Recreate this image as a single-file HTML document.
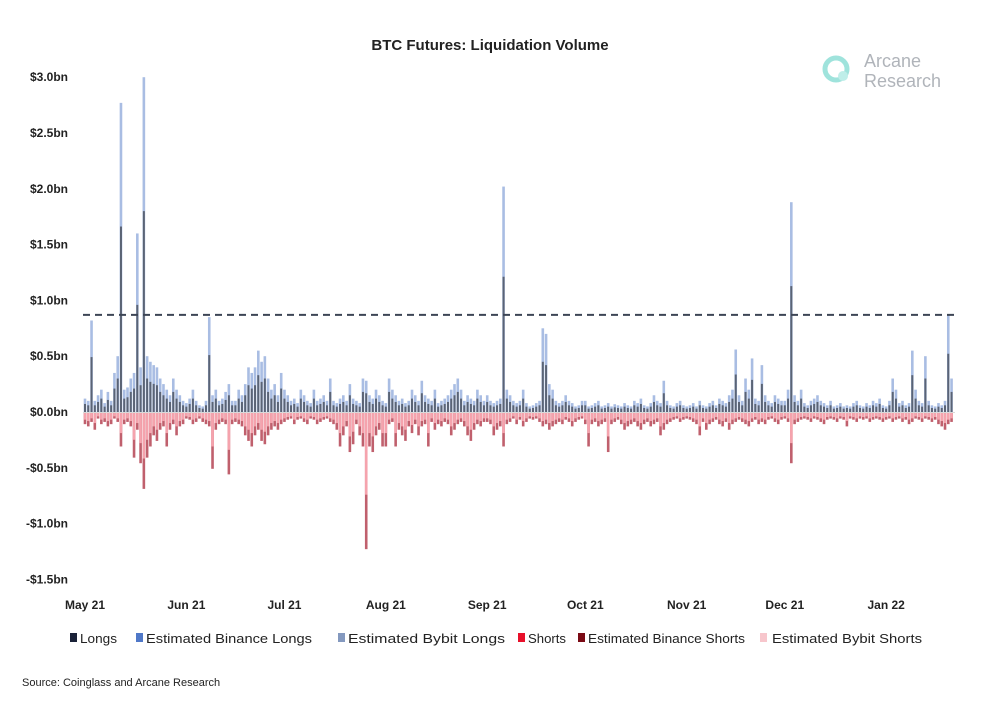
<!DOCTYPE html>
<html><head><meta charset="utf-8"><style>
body{margin:0;background:#fff;font-family:"Liberation Sans",sans-serif;}
svg text{font-family:"Liberation Sans",sans-serif;}
</style></head><body>
<svg id="chart" width="1000" height="704" xmlns="http://www.w3.org/2000/svg">
<rect width="1000" height="704" fill="#fff"/>
<text x="490" y="50" text-anchor="middle" font-size="15" font-weight="bold" fill="#222">BTC Futures: Liquidation Volume</text>
<g>
<circle cx="836" cy="69" r="11" fill="none" stroke="#9fe3dc" stroke-width="5"/>
<circle cx="843" cy="76" r="5" fill="#bfeee9"/>
<text x="864" y="67" font-size="18" fill="#b0b4ba">Arcane</text>
<text x="864" y="87" font-size="18" fill="#b0b4ba">Research</text>
</g>
<g id="yaxis"></g>
<g id="bars"></g>
<g id="xaxis"></g>
<g font-size="13" fill="#222">
<g><rect x="70" y="633" width="7" height="9" fill="#1a2238"/><text x="80" y="643" textLength="37" lengthAdjust="spacingAndGlyphs">Longs</text></g>
<g><rect x="136" y="633" width="7" height="9" fill="#4f78c8"/><text x="146" y="643" textLength="166" lengthAdjust="spacingAndGlyphs">Estimated Binance Longs</text></g>
<g><rect x="338" y="633" width="7" height="9" fill="#8499bf"/><text x="348" y="643" textLength="157" lengthAdjust="spacingAndGlyphs">Estimated Bybit Longs</text></g>
<g><rect x="518" y="633" width="7" height="9" fill="#e8102a"/><text x="528" y="643" textLength="38" lengthAdjust="spacingAndGlyphs">Shorts</text></g>
<g><rect x="578" y="633" width="7" height="9" fill="#7a0a14"/><text x="588" y="643" textLength="157" lengthAdjust="spacingAndGlyphs">Estimated Binance Shorts</text></g>
<g><rect x="760" y="633" width="7" height="9" fill="#f7c6cc"/><text x="772" y="643" textLength="150" lengthAdjust="spacingAndGlyphs">Estimated Bybit Shorts</text></g>
</g>
<text x="22" y="686" font-size="11" fill="#222">Source: Coinglass and Arcane Research</text>
</svg>
<script>
const months=["May 21","Jun 21","Jul 21","Aug 21","Sep 21","Oct 21","Nov 21","Dec 21","Jan 22"];
const monthStartDays=[0,31,61,92,123,153,184,214,245];
const yTicks=[3,2.5,2,1.5,1,0.5,0,-0.5,-1,-1.5];
const yTickLabels=["$3.0bn","$2.5bn","$2.0bn","$1.5bn","$1.0bn","$0.5bn","$0.0bn","-$0.5bn","-$1.0bn","-$1.5bn"];
const thresholdValue=[0.87];
const longs=[0.12,0.1,0.82,0.1,0.15,0.2,0.08,0.18,0.1,0.35,0.5,2.77,0.2,0.22,0.3,0.35,1.6,0.4,3.0,0.5,0.45,0.42,0.4,0.3,0.25,0.2,0.15,0.3,0.2,0.15,0.1,
0.08,0.12,0.2,0.1,0.06,0.05,0.1,0.85,0.15,0.2,0.1,0.12,0.18,0.25,0.1,0.1,0.2,0.15,0.25,0.4,0.35,0.4,0.55,0.45,0.5,0.3,0.2,0.25,0.15,0.35,
0.2,0.15,0.1,0.12,0.08,0.2,0.15,0.1,0.08,0.2,0.1,0.12,0.15,0.1,0.3,0.1,0.08,0.12,0.15,0.1,0.25,0.12,0.1,0.08,0.3,0.28,0.15,0.12,0.2,0.15,0.1,
0.08,0.3,0.2,0.15,0.1,0.12,0.08,0.1,0.2,0.15,0.1,0.28,0.15,0.12,0.1,0.2,0.08,0.1,0.12,0.15,0.2,0.25,0.3,0.2,0.1,0.15,0.12,0.1,0.2,0.15,0.1,
0.15,0.1,0.08,0.1,0.12,2.02,0.2,0.15,0.1,0.08,0.1,0.2,0.08,0.05,0.06,0.08,0.1,0.75,0.7,0.25,0.2,0.1,0.08,0.1,0.15,0.1,0.08,0.05,0.06,0.1,
0.1,0.05,0.06,0.08,0.1,0.05,0.06,0.08,0.05,0.07,0.06,0.05,0.08,0.06,0.05,0.1,0.08,0.12,0.06,0.05,0.08,0.15,0.1,0.08,0.28,0.1,0.06,0.05,0.08,0.1,0.06,
0.05,0.06,0.08,0.05,0.1,0.06,0.05,0.08,0.1,0.06,0.12,0.1,0.08,0.15,0.2,0.56,0.15,0.1,0.3,0.2,0.48,0.12,0.1,0.42,0.15,0.1,0.08,0.15,0.12,0.1,
0.1,0.2,1.88,0.15,0.1,0.2,0.08,0.06,0.1,0.12,0.15,0.1,0.08,0.06,0.1,0.05,0.06,0.08,0.05,0.06,0.05,0.08,0.1,0.06,0.05,0.08,0.06,0.1,0.08,0.12,0.06,
0.05,0.1,0.3,0.2,0.08,0.1,0.06,0.08,0.55,0.2,0.1,0.08,0.5,0.1,0.06,0.05,0.08,0.06,0.1,0.87,0.3];
const shorts=[-0.1,-0.12,-0.08,-0.15,-0.05,-0.1,-0.08,-0.12,-0.1,-0.05,-0.08,-0.3,-0.1,-0.08,-0.12,-0.4,-0.15,-0.45,-0.68,-0.4,-0.3,-0.2,-0.25,-0.15,-0.12,-0.3,-0.15,-0.1,-0.2,-0.12,-0.1,
-0.05,-0.06,-0.1,-0.08,-0.05,-0.08,-0.1,-0.12,-0.5,-0.15,-0.1,-0.08,-0.1,-0.55,-0.1,-0.08,-0.1,-0.12,-0.2,-0.25,-0.3,-0.2,-0.15,-0.25,-0.28,-0.2,-0.15,-0.12,-0.15,-0.1,
-0.08,-0.06,-0.05,-0.1,-0.06,-0.05,-0.08,-0.1,-0.05,-0.06,-0.1,-0.08,-0.06,-0.05,-0.08,-0.1,-0.15,-0.3,-0.2,-0.12,-0.35,-0.28,-0.1,-0.2,-0.3,-1.22,-0.3,-0.35,-0.2,-0.15,-0.3,
-0.3,-0.1,-0.08,-0.3,-0.15,-0.2,-0.25,-0.12,-0.18,-0.1,-0.2,-0.12,-0.1,-0.3,-0.08,-0.15,-0.1,-0.12,-0.08,-0.1,-0.2,-0.15,-0.1,-0.08,-0.12,-0.2,-0.25,-0.15,-0.1,-0.12,-0.08,
-0.08,-0.1,-0.2,-0.15,-0.12,-0.3,-0.1,-0.08,-0.05,-0.1,-0.06,-0.12,-0.08,-0.05,-0.06,-0.05,-0.08,-0.12,-0.1,-0.15,-0.12,-0.1,-0.08,-0.1,-0.06,-0.08,-0.12,-0.08,-0.06,-0.05,
-0.1,-0.3,-0.1,-0.08,-0.12,-0.1,-0.08,-0.35,-0.1,-0.08,-0.06,-0.1,-0.15,-0.12,-0.1,-0.08,-0.12,-0.15,-0.1,-0.08,-0.12,-0.1,-0.08,-0.2,-0.15,-0.1,-0.08,-0.06,-0.05,-0.08,-0.06,
-0.05,-0.06,-0.08,-0.1,-0.2,-0.08,-0.15,-0.1,-0.08,-0.06,-0.1,-0.12,-0.08,-0.15,-0.1,-0.08,-0.06,-0.08,-0.1,-0.12,-0.08,-0.06,-0.1,-0.08,-0.1,-0.06,-0.05,-0.08,-0.1,-0.06,
-0.05,-0.08,-0.45,-0.1,-0.08,-0.06,-0.05,-0.06,-0.08,-0.05,-0.06,-0.08,-0.1,-0.06,-0.05,-0.06,-0.08,-0.05,-0.06,-0.12,-0.05,-0.06,-0.08,-0.05,-0.06,-0.05,-0.08,-0.06,-0.05,-0.06,-0.08,
-0.06,-0.05,-0.08,-0.06,-0.05,-0.08,-0.06,-0.1,-0.08,-0.05,-0.06,-0.08,-0.05,-0.06,-0.08,-0.06,-0.1,-0.12,-0.15,-0.1,-0.08];

const NS="http://www.w3.org/2000/svg";
const X0=85, DX=3.27, Y0=412, PX_PER_BN=111.6;
function xs(i){return X0+i*DX;}
function ys(v){return Y0-v*PX_PER_BN;}
function mk(tag,attrs,parent){const e=document.createElementNS(NS,tag);for(const k in attrs)e.setAttribute(k,attrs[k]);parent.appendChild(e);return e;}

const yax=document.getElementById('yaxis');
yTicks.forEach((t,i)=>{
  const tx=mk('text',{x:68,y:ys(t)+4,'text-anchor':'end','font-size':12,'font-weight':'bold',fill:'#222'},yax);
  
  
  tx.textContent=yTickLabels[i];
});
const xax=document.getElementById('xaxis');
months.forEach((m,i)=>{
  const tx=mk('text',{x:xs(monthStartDays[i]),y:609,'text-anchor':'middle','font-size':12,'font-weight':'bold',fill:'#222'},xax);
  
  
  tx.textContent=m;
});
const bars=document.getElementById('bars');
const w=2.6;
longs.forEach((v,i)=>{
  const x=xs(i)-w/2;
  const r1=mk('rect',{x:x,y:ys(v),width:w,height:Y0-ys(v),fill:'#a9bde3'},bars);
  
  
  const r2=mk('rect',{x:x+0.3,y:ys(v*0.6),width:w-0.6,height:Y0-ys(v*0.6),fill:'#5b6475'},bars);
  
  
});
shorts.forEach((v,i)=>{
  const x=xs(i)-w/2;
  const r1=mk('rect',{x:x,y:Y0+1,width:w,height:ys(v)-Y0,fill:'#c0606d'},bars);
  
  
  const r2=mk('rect',{x:x,y:Y0+1,width:w,height:(ys(v)-Y0)*0.6,fill:'#f5a3ad'},bars);
  
  
});
const base=mk('line',{x1:83,x2:955,y1:Y0+0.5,y2:Y0+0.5,stroke:'#d9d9d9','stroke-width':1},bars);


const th=mk('line',{x1:83,x2:955,y1:ys(thresholdValue[0]),y2:ys(thresholdValue[0]),stroke:'#3d4555','stroke-width':2,'stroke-dasharray':'7,5'},bars);


</script>
</body></html>
